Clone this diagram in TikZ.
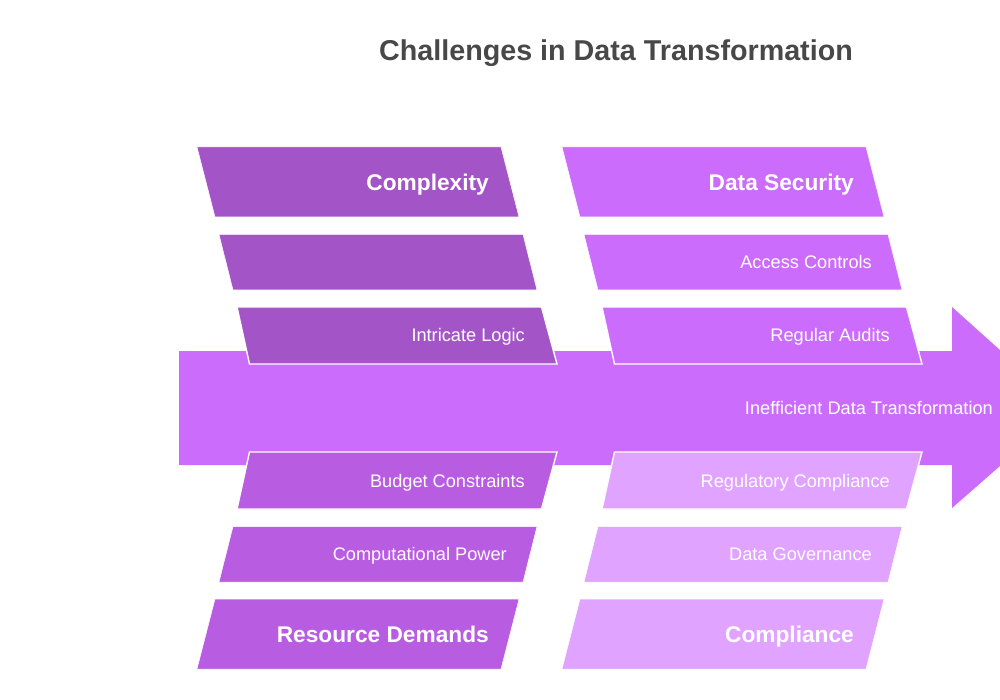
\documentclass[tikz,border=0pt]{standalone}
\usepackage{fontspec}
\setmainfont{Liberation Sans}
\definecolor{cplx}{HTML}{A355C8}
\definecolor{res}{HTML}{B85CE2}
\definecolor{sec}{HTML}{CC6CFC}
\definecolor{comp}{HTML}{E0A3FF}
\definecolor{ttl}{HTML}{484848}
\tikzset{
  x=1pt,y=-1pt,
  band/.style={draw=white,line width=0.5pt,line join=miter},
  inner/.style={draw=white,line width=1.4pt,line join=miter},
  lab/.style={text=white,inner sep=0pt,anchor=mid east,yshift=-4pt,font=\fontsize{18.2}{20}\selectfont},
  head/.style={text=white,inner sep=0pt,anchor=mid east,yshift=-6pt,font=\fontsize{22.7}{26}\selectfont\bfseries},
}
\begin{document}
\begin{tikzpicture}
\path[use as bounding box] (0,0) rectangle (1000,700);
\fill[white] (0,0) rectangle (1000,700);
\node[text=ttl,inner sep=0pt,font=\fontsize{28.7}{32}\selectfont\bfseries] (title) at (616,53) {Challenges in Data Transformation};
% spine arrow (the head runs off the right edge)
\fill[sec] (179,351) -- (952,351) -- (952,307) -- (1000,350) -- (1000,466) -- (952,508) -- (952,465) -- (179,465) -- cycle;
% left column, top
\path[band,fill=cplx] (197,147) -- (501,147) -- (519,217) -- (215,217) -- cycle;
\path[band,fill=cplx] (219,234.5) -- (523,234.5) -- (537,290) -- (233,290) -- cycle;
\path[inner,fill=cplx] (237,307) -- (541.5,307) -- (557,364) -- (249.5,364) -- cycle;
% right column, top
\path[band,fill=sec] (562,147) -- (866,147) -- (884,217) -- (580,217) -- cycle;
\path[band,fill=sec] (584,234.5) -- (888,234.5) -- (902,290) -- (598,290) -- cycle;
\path[inner,fill=sec] (602,307) -- (906.5,307) -- (922,364) -- (614.5,364) -- cycle;
% left column, bottom
\path[inner,fill=res] (249.5,452) -- (557,452) -- (541.5,509) -- (237,509) -- cycle;
\path[band,fill=res] (233,526.5) -- (537,526.5) -- (523,582) -- (219,582) -- cycle;
\path[band,fill=res] (215,599) -- (519,599) -- (501,669) -- (197,669) -- cycle;
% right column, bottom
\path[inner,fill=comp] (614.5,452) -- (922,452) -- (906.5,509) -- (602,509) -- cycle;
\path[band,fill=comp] (598,526.5) -- (902,526.5) -- (888,582) -- (584,582) -- cycle;
\path[band,fill=comp] (580,599) -- (884,599) -- (866,669) -- (562,669) -- cycle;
% labels
\node[head] (n1) at (489,182) {Complexity};
\node[head] (n2) at (854,182) {Data Security};
\node[lab] (n3) at (872,262) {Access Controls};
\node[lab] (n4) at (525,335) {Intricate Logic};
\node[lab] (n5) at (890,335) {Regular Audits};
\node[lab] (n6) at (993,408) {Inefficient Data Transformation};
\node[lab] (n7) at (525,481) {Budget Constraints};
\node[lab] (n8) at (890,481) {Regulatory Compliance};
\node[lab] (n9) at (507,554) {Computational Power};
\node[lab] (n10) at (872,554) {Data Governance};
\node[head] (n11) at (489,634) {Resource Demands};
\node[head] (n12) at (854,634) {Compliance};
\end{tikzpicture}
\end{document}
